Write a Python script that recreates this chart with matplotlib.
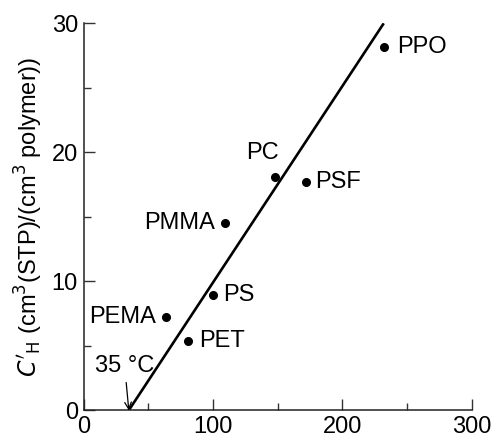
import matplotlib
matplotlib.use("Agg")
import matplotlib.pyplot as plt
from matplotlib.ticker import MultipleLocator

polymers = ["PPO", "PSF", "PC", "PMMA", "PS", "PEMA", "PET"]
tg = [232, 172, 148, 109, 100, 63.5, 81]
ch = [28.2, 17.7, 18.1, 14.5, 8.9, 7.2, 5.4]
label_side = ["right", "right", "above", "left", "right", "left", "right"]

fit_x = [35, 232]
fit_y = [0, 30]

plt.rcParams['font.family'] = ['Liberation Sans', 'DejaVu Sans']
fig = plt.figure(figsize=(4.95, 4.4), dpi=100)
ax = fig.add_axes([0.1687, 0.0675, 0.7843, 0.8795])

ax.plot(fit_x, fit_y, color='black', lw=1.9, solid_capstyle='butt')
ax.plot(tg, ch, 'o', color='black', ms=5.5, clip_on=False)

fs = 17
right_pad = {"PPO": 9.5, "PSF": 6.5, "PS": 7.5, "PET": 8.0}
for name, x, y, side in zip(polymers, tg, ch, label_side):
    if side == "right":
        ax.annotate(name, (x, y), xytext=(right_pad.get(name, 7.5), 0), textcoords='offset points',
                    ha='left', va='center', fontsize=fs)
    elif side == "left":
        ax.annotate(name, (x, y), xytext=(-7, 0), textcoords='offset points',
                    ha='right', va='center', fontsize=fs)
    else:
        ax.annotate(name, (x, y), xytext=(2.5, 9), textcoords='offset points',
                    ha='right', va='bottom', fontsize=fs)

ax.annotate("35 °C", xy=(fit_x[0], fit_y[0]), xytext=(-3, 24), textcoords='offset points',
            ha='center', va='bottom', fontsize=fs,
            arrowprops=dict(arrowstyle='->', color='black', lw=0.9,
                            shrinkA=2, shrinkB=0, mutation_scale=12))

ax.set_xlim(0, 300)
ax.set_ylim(0, 30)
ax.xaxis.set_major_locator(MultipleLocator(100))
ax.xaxis.set_minor_locator(MultipleLocator(50))
ax.yaxis.set_major_locator(MultipleLocator(10))
ax.yaxis.set_minor_locator(MultipleLocator(5))
ax.tick_params(which='major', direction='in', length=8, width=1, labelsize=fs, color='#333333', pad=4)
ax.tick_params(which='minor', direction='in', length=5, width=1, color='#333333')
for s in ['top', 'right']:
    ax.spines[s].set_visible(False)
for s in ['left', 'bottom']:
    ax.spines[s].set_linewidth(1.1)
    ax.spines[s].set_color('#222222')

ax.set_ylabel(r"$C'_{\rm H}$ (cm$^3$(STP)/(cm$^3$ polymer))", fontsize=fs, labelpad=5)

fig.savefig("out.png", dpi=100)
